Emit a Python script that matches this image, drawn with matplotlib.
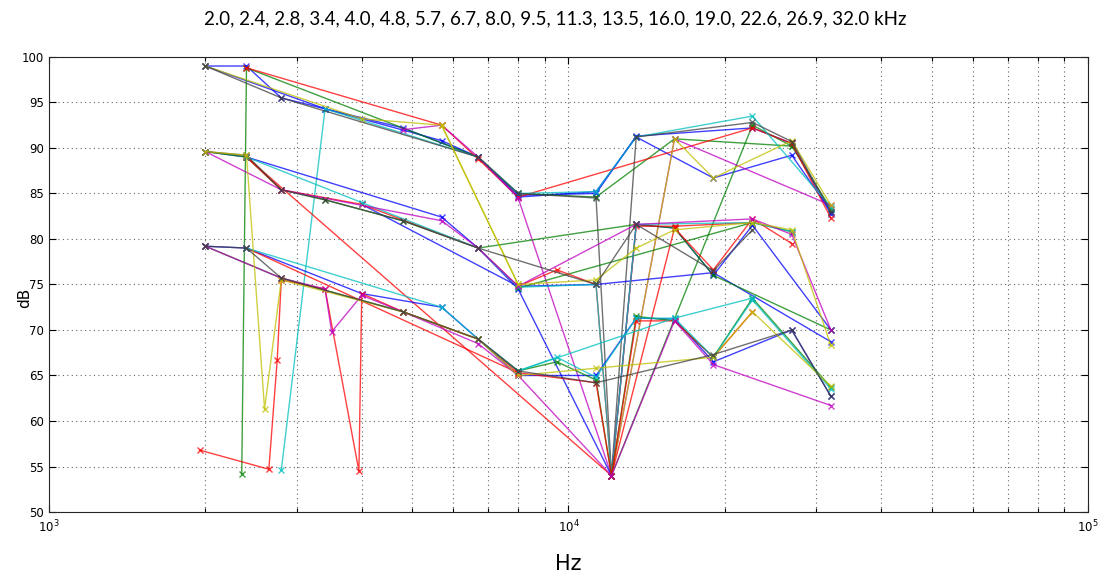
import matplotlib
matplotlib.use("Agg")
import matplotlib.pyplot as plt
from matplotlib.ticker import LogLocator, NullFormatter, FixedLocator

# ---------------- data (frequency in kHz, level in dB) ----------------
title_freqs = ["2.0", "2.4", "2.8", "3.4", "4.0", "4.8", "5.7", "6.7", "8.0",
               "9.5", "11.3", "13.5", "16.0", "19.0", "22.6", "26.9", "32.0"]

# top group
t_blue_khz = [2.0, 2.4, 2.8, 3.4, 4.8, 6.7, 8.0, 11.3, 13.5, 19.0, 26.9, 32.0]
t_blue_db = [99.0, 99.0, 95.5, 94.3, 92.2, 89.0, 84.6, 85.2, 91.2, 86.7, 89.2, 83.0]
t_blue2_khz = [2.0, 3.4, 5.7, 6.7, 8.0, 11.3, 13.5, 22.6, 26.9, 32.0]
t_blue2_db = [99.0, 94.3, 90.8, 89.0, 84.8, 85.0, 91.3, 92.2, 90.5, 82.7]
t_green_khz = [2.35, 2.4, 6.7, 8.0, 11.3, 16.0, 26.9, 32.0]
t_green_db = [54.2, 98.8, 89.0, 85.0, 84.6, 91.0, 90.2, 83.3]
t_green2_khz = [12.1, 22.6, 26.9]
t_green2_db = [54.0, 92.5, 90.2]
t_red_khz = [2.4, 5.7, 6.7, 8.0, 22.6, 26.9, 32.0]
t_red_db = [98.8, 92.5, 88.8, 84.6, 92.2, 90.5, 82.3]
t_cyan_khz = [2.8, 3.4, 6.7, 8.0, 11.3, 13.5, 22.6, 32.0]
t_cyan_db = [54.6, 94.3, 89.0, 85.0, 85.2, 91.2, 93.5, 83.5]
t_magenta_khz = [4.8, 5.7, 6.7, 8.0, 12.1, 16.0, 32.0]
t_magenta_db = [92.0, 92.5, 89.0, 84.5, 54.0, 91.0, 83.7]
t_yellow_khz = [2.0, 4.0, 5.7, 8.0]
t_yellow_db = [99.0, 93.2, 92.5, 75.0]
t_yellow2_khz = [12.1, 16.0, 19.0, 26.9, 32.0]
t_yellow2_db = [54.0, 91.0, 86.7, 90.8, 83.7]
t_black_khz = [2.0, 2.8, 6.7, 8.0, 11.3, 12.1, 13.5, 22.6, 26.9, 32.0]
t_black_db = [99.0, 95.5, 89.0, 85.0, 84.5, 54.0, 91.2, 92.8, 90.7, 83.0]

# middle group
m_blue_khz = [2.0, 2.4, 5.7, 6.7, 8.0, 12.1, 13.5, 16.0, 19.0, 22.6, 32.0]
m_blue_db = [89.6, 89.0, 82.4, 79.0, 74.5, 54.0, 81.6, 81.2, 76.0, 81.5, 70.0]
m_blue2_khz = [4.0, 8.0, 11.3, 19.0, 32.0]
m_blue2_db = [83.8, 74.8, 75.0, 76.3, 68.7]
m_green_khz = [2.0, 2.4, 2.8, 3.4, 4.8, 6.7, 13.5, 16.0, 19.0, 32.0]
m_green_db = [89.6, 89.0, 85.4, 84.3, 82.0, 79.0, 81.6, 81.2, 76.0, 70.0]
m_green2_khz = [8.0, 22.6, 26.9]
m_green2_db = [74.6, 81.8, 80.8]
m_red_khz = [2.4, 2.8, 4.0, 6.7, 8.0, 9.5, 11.3, 12.1, 16.0, 19.0, 22.6, 26.9]
m_red_db = [89.0, 85.4, 83.8, 79.0, 74.8, 76.6, 75.0, 54.0, 81.2, 76.6, 82.2, 79.5]
m_red2_khz = [2.4, 12.1, 13.5, 16.0, 22.6]
m_red2_db = [89.0, 54.0, 81.4, 81.4, 81.8]
m_cyan_khz = [2.4, 4.0, 6.7, 8.0, 11.3, 12.1, 13.5, 22.6, 26.9]
m_cyan_db = [89.0, 84.0, 79.0, 74.7, 75.0, 54.0, 81.6, 81.8, 80.8]
m_magenta_khz = [2.0, 2.8, 5.7, 6.7, 8.0, 13.5, 22.6, 26.9, 32.0]
m_magenta_db = [89.6, 85.4, 82.0, 79.0, 74.8, 81.6, 82.2, 80.5, 70.0]
m_yellow_khz = [5.7, 8.0, 11.3, 13.5, 16.0, 22.6, 26.9, 32.0]
m_yellow_db = [92.5, 75.0, 75.5, 79.0, 81.0, 81.8, 81.0, 68.3]
m_black_khz = [2.0, 2.4, 2.8, 3.4, 4.8, 6.7, 11.3, 13.5, 19.0, 22.6]
m_black_db = [89.6, 89.2, 85.4, 84.3, 82.0, 79.0, 75.0, 81.6, 76.5, 81.0]

# bottom group
b_blue_khz = [2.0, 2.4, 4.0, 5.7, 6.7, 8.0, 11.3, 13.5, 16.0, 19.0, 26.9, 32.0]
b_blue_db = [79.2, 79.0, 74.0, 72.5, 69.0, 65.0, 65.0, 71.3, 71.2, 66.5, 70.0, 62.7]
b_green_khz = [2.0, 2.8, 4.8, 6.7, 8.0, 9.5, 11.3, 12.1, 13.5, 16.0, 19.0, 22.6, 32.0]
b_green_db = [79.2, 75.7, 72.0, 69.0, 65.5, 66.5, 64.5, 54.0, 71.5, 71.0, 67.0, 73.5, 63.7]
b_red_khz = [1.95, 2.65, 2.75, 2.8, 3.4, 3.95, 4.0, 4.8, 6.7, 8.0, 11.3, 12.1, 13.5, 16.0, 19.0, 22.6]
b_red_db = [56.8, 54.7, 66.7, 75.5, 74.5, 54.5, 74.0, 72.0, 69.0, 65.3, 64.2, 54.0, 71.0, 71.0, 67.0, 72.0]
b_red2_khz = [2.4, 8.0]
b_red2_db = [79.0, 65.3]
b_cyan_khz = [2.4, 5.7, 6.7, 8.0, 9.5, 11.3, 13.5, 16.0, 19.0, 22.6, 32.0]
b_cyan_db = [79.0, 72.5, 69.0, 65.5, 67.0, 64.8, 71.3, 71.3, 67.0, 73.3, 63.5]
b_cyan2_khz = [8.0, 16.0, 22.6]
b_cyan2_db = [65.5, 71.3, 73.5]
b_magenta_khz = [2.0, 2.8, 3.4, 3.5, 4.0, 4.8, 6.7, 8.0, 12.1, 16.0, 19.0, 32.0]
b_magenta_db = [79.2, 75.7, 74.5, 69.8, 73.8, 72.0, 68.5, 65.0, 54.0, 71.0, 66.2, 61.7]
b_yellow_khz = [2.0, 2.4, 2.6, 2.8, 4.8, 6.7, 8.0, 11.3, 19.0, 22.6, 32.0]
b_yellow_db = [89.6, 89.2, 61.3, 75.5, 72.0, 69.0, 65.0, 65.8, 67.0, 72.0, 63.8]
b_black_khz = [2.0, 2.4, 2.8, 4.8, 6.7, 8.0, 11.3, 19.0, 26.9, 32.0]
b_black_db = [79.2, 79.0, 75.7, 72.0, 69.0, 65.5, 64.2, 67.3, 70.0, 62.7]

y_ticks = [50, 55, 60, 65, 70, 75, 80, 85, 90, 95, 100]

# ---------------- styles ----------------
C = {"b": (0, 0, 1), "g": (0, 0.5, 0), "r": (1, 0, 0), "c": (0, 0.75, 0.75),
     "m": (0.75, 0, 0.75), "y": (0.75, 0.75, 0), "k": (0.25, 0.25, 0.25)}

series = [
    ("b", t_blue_khz, t_blue_db), ("b", t_blue2_khz, t_blue2_db),
    ("g", t_green_khz, t_green_db), ("g", t_green2_khz, t_green2_db),
    ("r", t_red_khz, t_red_db), ("c", t_cyan_khz, t_cyan_db),
    ("m", t_magenta_khz, t_magenta_db), ("y", t_yellow_khz, t_yellow_db),
    ("y", t_yellow2_khz, t_yellow2_db), ("k", t_black_khz, t_black_db),
    ("b", m_blue_khz, m_blue_db), ("b", m_blue2_khz, m_blue2_db),
    ("g", m_green_khz, m_green_db), ("g", m_green2_khz, m_green2_db),
    ("r", m_red_khz, m_red_db), ("r", m_red2_khz, m_red2_db),
    ("c", m_cyan_khz, m_cyan_db), ("m", m_magenta_khz, m_magenta_db),
    ("y", m_yellow_khz, m_yellow_db), ("k", m_black_khz, m_black_db),
    ("b", b_blue_khz, b_blue_db), ("g", b_green_khz, b_green_db),
    ("r", b_red_khz, b_red_db), ("r", b_red2_khz, b_red2_db),
    ("c", b_cyan_khz, b_cyan_db), ("c", b_cyan2_khz, b_cyan2_db),
    ("m", b_magenta_khz, b_magenta_db), ("y", b_yellow_khz, b_yellow_db),
    ("k", b_black_khz, b_black_db),
]

fig = plt.figure(figsize=(11.03, 5.79), dpi=100)
ax = fig.add_axes([0.0444, 0.1157, 0.942, 0.786])

for col, khz, db in series:
    hz = [f * 1000 for f in khz]
    ax.plot(hz, db, color=C[col], lw=1.0, alpha=0.75, marker="x",
            markersize=4.5, markeredgewidth=1.0)

ax.set_xscale("log")
ax.set_xlim(1e3, 1e5)
ax.set_ylim(50, 100)
ax.yaxis.set_major_locator(FixedLocator(y_ticks))
ax.xaxis.set_major_locator(LogLocator(base=10, numticks=5))
ax.xaxis.set_minor_locator(LogLocator(base=10, subs=range(2, 10), numticks=20))
ax.xaxis.set_minor_formatter(NullFormatter())

grid_kw = dict(color=(0.4, 0.4, 0.4), linestyle=(0, (1, 3)), linewidth=0.8)
ax.grid(True, which="major", axis="both", **grid_kw)
ax.grid(True, which="minor", axis="x", **grid_kw)

ax.tick_params(which="both", direction="in", top=True, right=True,
               labelsize=8.5, length=5, width=0.8)
ax.tick_params(which="minor", length=3)
for sp in ax.spines.values():
    sp.set_linewidth(0.8)
    sp.set_color((0.15, 0.15, 0.15))
for lab in ax.get_xticklabels() + ax.get_yticklabels():
    lab.set_family(["Liberation Sans Narrow", "DejaVu Sans"])
ax.tick_params(axis="x", pad=5)

ax.set_ylabel("dB", fontsize=11)
ax.yaxis.set_label_coords(-0.016, 0.47)
ax.set_xlabel("Hz", fontsize=15)
ax.xaxis.set_label_coords(0.5, -0.093)

fig.text(0.503, 0.968, ", ".join(title_freqs) + " kHz", ha="center",
         va="center", fontsize=13.5, family=["Lato", "DejaVu Sans"])

fig.savefig("out.png", dpi=100)
